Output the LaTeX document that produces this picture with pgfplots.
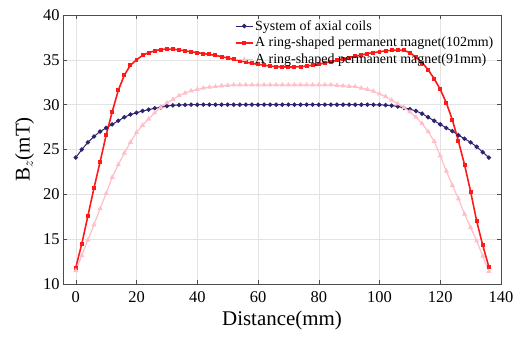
\documentclass[border=0pt]{standalone}
\usepackage{pgfplots}
\pgfplotsset{compat=1.18}
\usepackage{fontspec}
\setmainfont{Liberation Serif}
\definecolor{cnavy}{RGB}{45,35,110}
\definecolor{cred}{RGB}{255,25,25}
\definecolor{cpink}{RGB}{255,190,200}
\begin{document}
\begin{tikzpicture}
\useasboundingbox (-63bp,-56bp) rectangle (452bp,284bp);
\begin{axis}[
  at={(0,0)}, anchor=south west,
  scale only axis, width=438bp, height=269bp,
  xmin=-4.2, xmax=140, ymin=10, ymax=40,
  xtick={0,20,...,140}, ytick={10,15,...,40},
  grid=major, major grid style={gray!22, line width=0.5pt},
  axis line style={gray!60!black, line width=0.6pt},
  tick align=inside, tick style={gray!60!black, line width=0.5pt}, major tick length=4bp,
  /pgf/number format/assume math mode=true,
  tick label style={font=\fontsize{16.5}{16.5}\selectfont},
  xticklabel style={yshift=-4bp},
  label style={font=\fontsize{21}{21}\selectfont},
  xlabel={Distance(mm)},
  ylabel={B$_z$(mT)},
  xlabel style={yshift=-1.5bp},
  ylabel style={yshift=2bp},
  legend style={draw=none, fill=none, font=\fontsize{14}{14}\selectfont,
    at={(0.39,0.99)}, anchor=north west, inner sep=1bp, row sep=2.5bp,
    nodes={inner sep=1.5bp}},
  legend cell align=left,
]
\addplot[color=cnavy, line width=1pt, mark=*, mark size=1.7pt] coordinates {
(0,24.1)(2,25.0)(4,25.8)(6,26.45)(8,27.0)(10,27.4)(12,27.8)(14,28.2)(16,28.6)(18,28.9)
(20,29.1)(22,29.3)(24,29.45)(26,29.6)(28,29.7)(30,29.85)(32,29.92)(34,29.96)(36,29.98)(38,30.0)
(40,30.0)(42,30.0)(44,30.0)(46,30.0)(48,30.0)(50,30.0)(52,30.0)(54,30.0)(56,30.0)(58,30.0)
(60,30.0)(62,30.0)(64,30.0)(66,30.0)(68,30.0)(70,30.0)(72,30.0)(74,30.0)(76,30.0)(78,30.0)
(80,30.0)(82,30.0)(84,30.0)(86,30.0)(88,30.0)(90,30.0)(92,30.0)(94,30.0)(96,30.0)(98,29.99)
(100,29.98)(102,29.95)(104,29.9)(106,29.8)(108,29.65)(110,29.5)(112,29.3)(114,29.0)(116,28.6)(118,28.2)
(120,27.8)(122,27.4)(124,27.05)(126,26.6)(128,26.2)(130,25.8)(132,25.3)(134,24.7)(136,24.1)
};
\addlegendentry{System of axial coils}
\addplot[color=cred, line width=1.6pt, mark=square*, mark size=1.2pt] coordinates {
(0,11.8)(2,14.5)(4,17.6)(6,20.7)(8,23.6)(10,26.6)(12,29.2)(14,31.6)(16,33.3)(18,34.4)
(20,35.0)(22,35.5)(24,35.8)(26,36.0)(28,36.15)(30,36.2)(32,36.2)(34,36.1)(36,36.0)(38,35.9)
(40,35.8)(42,35.7)(44,35.6)(46,35.5)(48,35.35)(50,35.2)(52,35.05)(54,34.9)(56,34.75)(58,34.6)
(60,34.5)(62,34.4)(64,34.3)(66,34.25)(68,34.2)(70,34.2)(72,34.2)(74,34.25)(76,34.3)(78,34.4)
(80,34.5)(82,34.65)(84,34.8)(86,34.95)(88,35.1)(90,35.25)(92,35.4)(94,35.55)(96,35.7)(98,35.8)
(100,35.9)(102,36.0)(104,36.05)(106,36.1)(108,36.05)(110,35.8)(112,35.3)(114,34.7)(116,33.9)(118,32.9)
(120,31.7)(122,30.2)(124,28.3)(126,25.9)(128,23.3)(130,20.3)(132,17.0)(134,14.3)(136,11.9)
};
\addlegendentry{A ring-shaped permanent magnet(102mm)}
\addplot[color=cpink, line width=1.2pt, mark=triangle*, mark size=1.8pt] coordinates {
(0,11.5)(2,13.2)(4,14.9)(6,16.6)(8,18.4)(10,20.1)(12,21.9)(14,23.3)(16,24.6)(18,25.8)
(20,26.9)(22,27.7)(24,28.4)(26,29.1)(28,29.7)(30,30.2)(32,30.6)(34,31.0)(36,31.3)(38,31.55)
(40,31.7)(42,31.85)(44,31.95)(46,32.0)(48,32.1)(50,32.15)(52,32.2)(54,32.2)(56,32.2)(58,32.2)
(60,32.2)(62,32.2)(64,32.2)(66,32.2)(68,32.2)(70,32.2)(72,32.2)(74,32.2)(76,32.2)(78,32.2)
(80,32.2)(82,32.2)(84,32.2)(86,32.15)(88,32.1)(90,32.05)(92,32.0)(94,31.85)(96,31.7)(98,31.5)
(100,31.2)(102,30.9)(104,30.5)(106,30.1)(108,29.7)(110,29.2)(112,28.6)(114,27.9)(116,27.0)(118,25.9)
(120,24.3)(122,22.6)(124,21.0)(126,19.5)(128,17.8)(130,16.3)(132,14.8)(134,13.1)(136,11.4)
};
\addlegendentry{A ring-shaped permanent magnet(91mm)}
\end{axis}
\end{tikzpicture}
\end{document}
